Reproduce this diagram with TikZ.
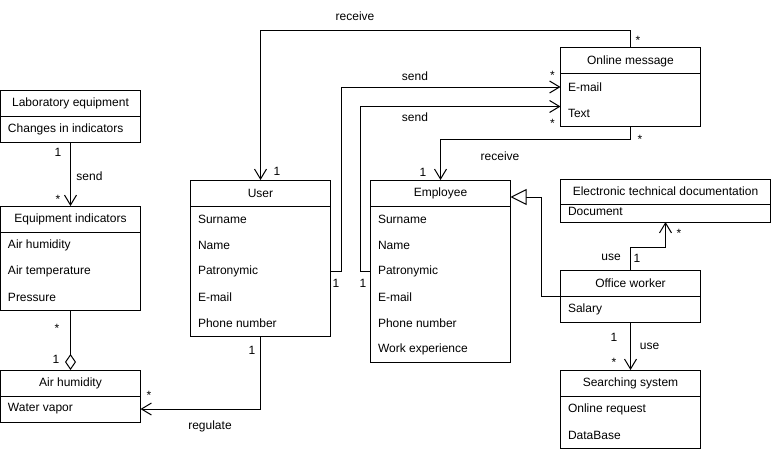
\documentclass[tikz,border=0pt]{standalone}
\usepackage{fontspec}
\setmainfont{Liberation Sans}
\usetikzlibrary{arrows.meta}

\tikzset{
  head/.style={draw, minimum width=140pt, minimum height=26pt, inner sep=0pt, outer sep=0pt},
  body/.style={draw, minimum width=140pt, anchor=north, inner sep=0pt, outer sep=0pt},
  row/.style={anchor=west, inner sep=0pt},
  lbl/.style={inner sep=0pt},
  star/.style={inner sep=0pt, yshift=-2.7pt},
  assoc/.style={-{Straight Barb[length=10pt,width=12pt]}},
  gen/.style={-{Triangle[open,length=16pt,width=16pt,fill=white]}},
  aggr/.style={-{Diamond[open,length=16pt,width=11pt,fill=white]}}
}

\begin{document}
\begin{tikzpicture}[x=1pt, y=-1pt, line width=1pt, font=\fontsize{12}{14}\selectfont]
\useasboundingbox (0,0) rectangle (771,452);
% classes on the left
\node[head] (labh) at (70.5,103) {Laboratory equipment};
\node[body, minimum height=26pt] (labb) at (labh.south) {};
\node[row] (lab1) at ([xshift=7pt]labb.west) {Changes in indicators};
\node[head] (eqh) at (70.5,219) {Equipment indicators};
\node[body, minimum height=78pt] (eqb) at (eqh.south) {};
\node[row] (eq1) at ([shift={(7pt,-13pt)}]eqb.north west) {Air humidity};
\node[row] (eq2) at ([yshift=-26pt]eq1.west) {Air temperature};
\node[row] (eq3) at ([yshift=-26pt]eq2.west) {Pressure};
\node[head] (airh) at (70.5,383) {Air humidity};
\node[body, minimum height=26pt] (airb) at (airh.south) {};
\node[row] (air1) at ([xshift=7pt]airb.west) {Water vapor};
% user and employee
\node[head] (usrh) at (260.5,193) {User};
\node[body, minimum height=130pt] (usrb) at (usrh.south) {};
\node[row] (usr1) at ([shift={(7pt,-13pt)}]usrb.north west) {Surname};
\node[row] (usr2) at ([yshift=-26pt]usr1.west) {Name};
\node[row] (usr3) at ([yshift=-26pt]usr2.west) {Patronymic};
\node[row] (usr4) at ([yshift=-26pt]usr3.west) {E-mail};
\node[row] (usr5) at ([yshift=-26pt]usr4.west) {Phone number};
\node[head] (emph) at (440.5,193) {Employee};
\node[body, minimum height=156pt] (empb) at (emph.south) {};
\node[row] (emp1) at ([shift={(7pt,-13pt)}]empb.north west) {Surname};
\node[row] (emp2) at ([yshift=-26pt]emp1.west) {Name};
\node[row] (emp3) at ([yshift=-26pt]emp2.west) {Patronymic};
\node[row] (emp4) at ([yshift=-26pt]emp3.west) {E-mail};
\node[row] (emp5) at ([yshift=-26pt]emp4.west) {Phone number};
\node[row] (emp6) at ([yshift=-26pt]emp5.west) {Work experience};
% classes on the right
\node[head] (omh) at (630.5,61) {Online message};
\node[body, minimum height=52pt] (omb) at (omh.south) {};
\node[row] (om1) at ([shift={(7pt,-13pt)}]omb.north west) {E-mail};
\node[row] (om2) at ([yshift=-26pt]om1.west) {Text};
\node[head, minimum width=210pt, minimum height=25pt] (etdh) at (665.5,191.5) {Electronic technical documentation};
\node[body, minimum width=210pt, minimum height=18pt] (etdb) at (etdh.south) {};
\node[row] (etd1) at ([shift={(7pt,2pt)}]etdb.west) {Document};
\node[head] (owh) at (630.5,283) {Office worker};
\node[body, minimum height=26pt] (owb) at (owh.south) {};
\node[row] (ow1) at ([xshift=7pt]owb.west) {Salary};
\node[head] (ssh) at (630.5,383) {Searching system};
\node[body, minimum height=52pt] (ssb) at (ssh.south) {};
\node[row] (ss1) at ([shift={(7pt,-13pt)}]ssb.north west) {Online request};
\node[row] (ss2) at ([yshift=-26pt]ss1.west) {DataBase};
% connectors
\draw[assoc] (labb.south) -- (eqh.north);
\draw[aggr] (eqb.south) -- (airh.north);
\draw[assoc] (usrb.south) |- (airb.east);
\draw[assoc] (omh.north) -- ++(0,-17) -| (usrh.north);
\draw[assoc] (usr3 -| usrb.east) -- ++(11,0) |- (om1 -| omb.west);
\draw[assoc] (emp3 -| empb.west) -- ++(-10,0) |- ([yshift=-6.5pt]omb.west);
\draw[assoc] (omb.south) -- ++(0,13) -| (emph.north);
\draw[gen] (owh.south west) -- ++(-19,0) |- ([yshift=-4pt]emph.east);
\draw[assoc] (owh.north) -- ++(0,-23) -| (etdb.south);
\draw[assoc] (owb.south) -- (ssh.north);
% labels and multiplicities
\node[lbl] (l1) at (58,152) {1};
\node[lbl] (l2) at (89.5,176) {send};
\node[star] (l3) at (58,197) {*};
\node[star] (l4) at (57,326) {*};
\node[lbl] (l5) at (56,359) {1};
\node[lbl] (l6) at (252,350) {1};
\node[star] (l7) at (149,393) {*};
\node[lbl] (l8) at (210,426) {regulate};
\node[lbl] (l9) at (355,16) {receive};
\node[lbl] (l10) at (277,171) {1};
\node[star] (l11) at (638,38) {*};
\node[lbl] (l12) at (415,76) {send};
\node[star] (l13) at (552.5,73) {*};
\node[lbl] (l14) at (415,117) {send};
\node[star] (l15) at (552.5,121) {*};
\node[lbl] (l16) at (336,283) {1};
\node[lbl] (l17) at (363,283) {1};
\node[lbl] (l18) at (500,156) {receive};
\node[lbl] (l19) at (423,172) {1};
\node[star] (l20) at (640,137) {*};
\node[lbl] (l21) at (611,257) {use};
\node[lbl] (l22) at (637,258) {1};
\node[star] (l23) at (679,231) {*};
\node[lbl] (l24) at (614,337) {1};
\node[lbl] (l25) at (649.5,346) {use};
\node[star] (l26) at (614,360) {*};
\end{tikzpicture}
\end{document}
